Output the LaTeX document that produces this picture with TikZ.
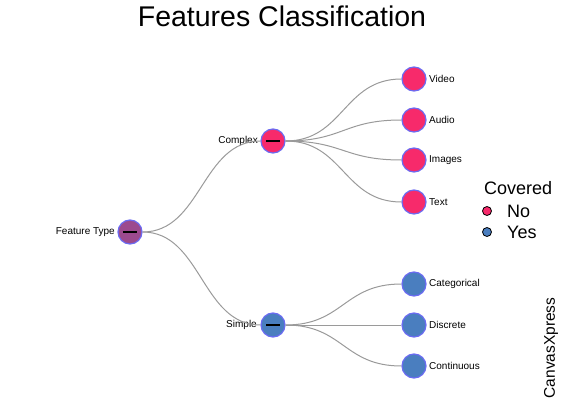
\documentclass[tikz,border=0pt]{standalone}
\usepackage{fontspec}
\setmainfont{Liberation Sans}
\usetikzlibrary{calc}
\definecolor{pinkc}{HTML}{F72A6B}
\definecolor{bluec}{HTML}{4A7EBF}
\definecolor{purc}{HTML}{9C4A8E}
\definecolor{rimc}{HTML}{6B6BF2}
\definecolor{edgec}{HTML}{9A9A9A}
\begin{document}
\begin{tikzpicture}[x=1pt,y=-1pt,
  dot/.style={circle,draw=rimc,line width=1.2pt,minimum size=24pt,inner sep=0pt},
  lbl/.style={font=\fontsize{10}{11}\selectfont,inner sep=1pt},
  edge/.style={draw=edgec,line width=1pt},
  leg/.style={circle,draw=black,line width=0.8pt,minimum size=9pt,inner sep=0pt}]
\useasboundingbox (0,0) rectangle (563,412);
\node[font=\fontsize{28.5}{32}\selectfont] (title) at (282,16) {Features Classification};
% nodes
\node[dot,fill=purc] (ft) at (130,232) {};
\node[dot,fill=pinkc] (cx) at (273,141) {};
\node[dot,fill=bluec] (sp) at (273,325) {};
\node[dot,fill=pinkc] (vi) at (414,79) {};
\node[dot,fill=pinkc] (au) at (414,120) {};
\node[dot,fill=pinkc] (im) at (414,160) {};
\node[dot,fill=pinkc] (tx) at (414,202) {};
\node[dot,fill=bluec] (ca) at (414,284) {};
\node[dot,fill=bluec] (di) at (414,325) {};
\node[dot,fill=bluec] (co) at (414,366) {};
% minus marks
\foreach \n in {ft,cx,sp}{\draw[line width=1.3pt] ([xshift=-7pt]\n.center) -- ([xshift=7pt]\n.center);}
% labels
\node[lbl,anchor=east] (lft) at (116,232) {Feature Type};
\node[lbl,anchor=east] (lcx) at (259,141) {Complex};
\node[lbl,anchor=east] (lsp) at (258,325) {Simple};
\node[lbl,anchor=west] (lvi) at (428,79) {Video};
\node[lbl,anchor=west] (lau) at (428,120) {Audio};
\node[lbl,anchor=west] (lim) at (428,160) {Images};
\node[lbl,anchor=west] (ltx) at (428,202) {Text};
\node[lbl,anchor=west] (lca) at (428,284) {Categorical};
\node[lbl,anchor=west] (ldi) at (428,325) {Discrete};
\node[lbl,anchor=west] (lco) at (428,366) {Continuous};
% edges
\foreach \a/\b in {ft/cx,ft/sp,cx/vi,cx/au,cx/im,cx/tx,sp/ca,sp/di,sp/co}{
  \path[edge] let \p1=(\a.east), \p2=(\b.west) in (\p1) .. controls ({(\x1+\x2)/2},\y1) and ({(\x1+\x2)/2},\y2) .. (\p2);
}
% legend
\node[font=\fontsize{18}{20}\selectfont,anchor=west,inner sep=0pt] (lgt) at (484,188) {Covered};
\node[leg,fill=pinkc] (lg1) at (487,211) {};
\node[leg,fill=bluec] (lg2) at (487,232) {};
\node[font=\fontsize{18}{20}\selectfont,anchor=west,inner sep=0pt] (lgno) at (507,211) {No};
\node[font=\fontsize{18}{20}\selectfont,anchor=west,inner sep=0pt] (lgyes) at (507,232) {Yes};
\node[font=\fontsize{15.5}{17}\selectfont,rotate=90,inner sep=0pt] (cxp) at (551,348) {CanvasXpress};
\end{tikzpicture}
\end{document}
